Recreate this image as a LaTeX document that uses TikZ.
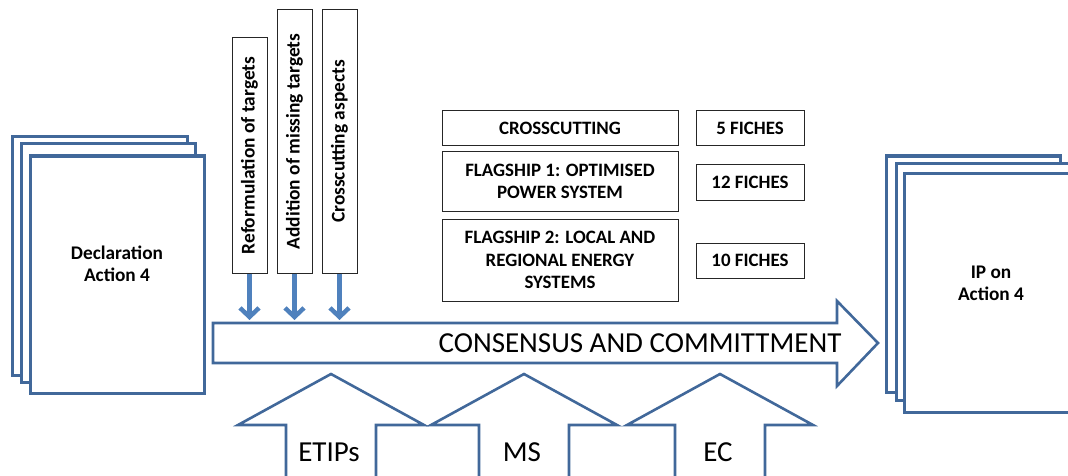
\documentclass[tikz,border=0pt]{standalone}
\usepackage{fontspec}
\setmainfont{Carlito}
\usetikzlibrary{arrows.meta}
\definecolor{pblue}{HTML}{41689A}
\definecolor{ablue}{HTML}{4F81BD}
\tikzset{
  page/.style={draw=pblue, line width=3pt, fill=white, inner sep=0pt, minimum width=174pt},
  pagetext/.style={align=center, inner sep=0pt, font=\bfseries\fontsize{19.3}{22}\selectfont},
  vbox/.style={draw=black!85, line width=1pt, fill=white, inner sep=0pt, minimum width=35pt},
  vtext/.style={rotate=90, inner sep=0pt, font=\bfseries\fontsize{19.4}{22}\selectfont},
  hbox/.style={draw=black!85, line width=1pt, fill=white, inner sep=0pt, align=center,
    font=\bfseries\fontsize{18.9}{22.5}\selectfont},
  downarrow/.style={draw=ablue, line width=4.5pt, -{Straight Barb[length=9pt,width=19pt]}},
  bigarrow/.style={draw=pblue, line width=2.6pt, fill=white, line join=miter},
  uparrow/.style={draw=pblue, line width=2.6pt, fill=white, line join=miter},
  biglbl/.style={inner sep=0pt, font=\fontsize{29}{34}\selectfont},
}
\begin{document}
\begin{tikzpicture}[x=1pt,y=-1pt]
\useasboundingbox (0,0) rectangle (1068,476);
\clip (0,0) rectangle (1068,476);

% left stack of pages
\node[page, minimum width=175pt, minimum height=238pt] (p1) at (99.5,256) {};
\node[page, minimum height=238pt] (p2) at (108,263) {};
\node[page, minimum height=237pt] (p3) at (117,274.5) {};
\node[pagetext] (decl) at (117,264) {Declaration\\Action 4};

% right stack of pages
\node[page, minimum height=236pt] (r1) at (973,274) {};
\node[page, minimum height=237pt] (r2) at (983,281.5) {};
\node[page, minimum height=239pt] (r3) at (991,292.5) {};
\node[pagetext] (ip) at (991,283) {IP on\\Action 4};

% big arrow
\draw[bigarrow] (213,323) -- (837,323) -- (837,301) -- (878,343) -- (837,386)
  -- (837,363) -- (213,363) -- cycle;
\node[biglbl] (cons) at (640,343) {CONSENSUS AND COMMITTMENT};

% vertical boxes
\node[vbox, minimum height=235pt] (v1) at (249.5,155.5) {};
\node[vtext] (t1) at (v1.center) {Reformulation of targets};
\node[vbox, minimum height=263pt] (v2) at (294.5,141.5) {};
\node[vtext] (t2) at (v2.center) {Addition of missing targets};
\node[vbox, minimum height=263pt] (v3) at (339.5,141.5) {};
\node[vtext] (t3) at (v3.center) {Crosscutting aspects};

\coordinate (e1) at (249.5,320);
\coordinate (e2) at (294.5,320);
\coordinate (e3) at (339.5,320);
\draw[downarrow] (v1.south) -- (e1);
\draw[downarrow] (v2.south) -- (e2);
\draw[downarrow] (v3.south) -- (e3);

% flagship boxes
\node[hbox, minimum width=236pt, minimum height=35pt] (cross) at (560,128.5) {CROSSCUTTING};
\node[hbox, minimum width=236pt, minimum height=59pt] (fs1) at (560,181.5) {FLAGSHIP 1: OPTIMISED\\POWER SYSTEM};
\node[hbox, minimum width=236pt, minimum height=82pt] (fs2) at (560,260) {FLAGSHIP 2: LOCAL AND\\REGIONAL ENERGY\\SYSTEMS};
\node[hbox, minimum width=108pt, minimum height=35pt] (f5) at (750,128.5) {5 FICHES};
\node[hbox, minimum width=108pt, minimum height=36pt] (f12) at (750,182) {12 FICHES};
\node[hbox, minimum width=108pt, minimum height=35pt] (f10) at (750,260.5) {10 FICHES};

% bottom up arrows
\foreach \cx/\lab/\nm in {331/ETIPs/etips, 524/MS/ms, 720/EC/ec} {
  \draw[uparrow] (\cx-45,482) -- (\cx-45,425) -- (\cx-93,425) -- (\cx,374)
    -- (\cx+93,425) -- (\cx+45,425) -- (\cx+45,482);
  \node[biglbl] (\nm) at (\cx-2,452) {\lab};
}
\end{tikzpicture}
\end{document}
